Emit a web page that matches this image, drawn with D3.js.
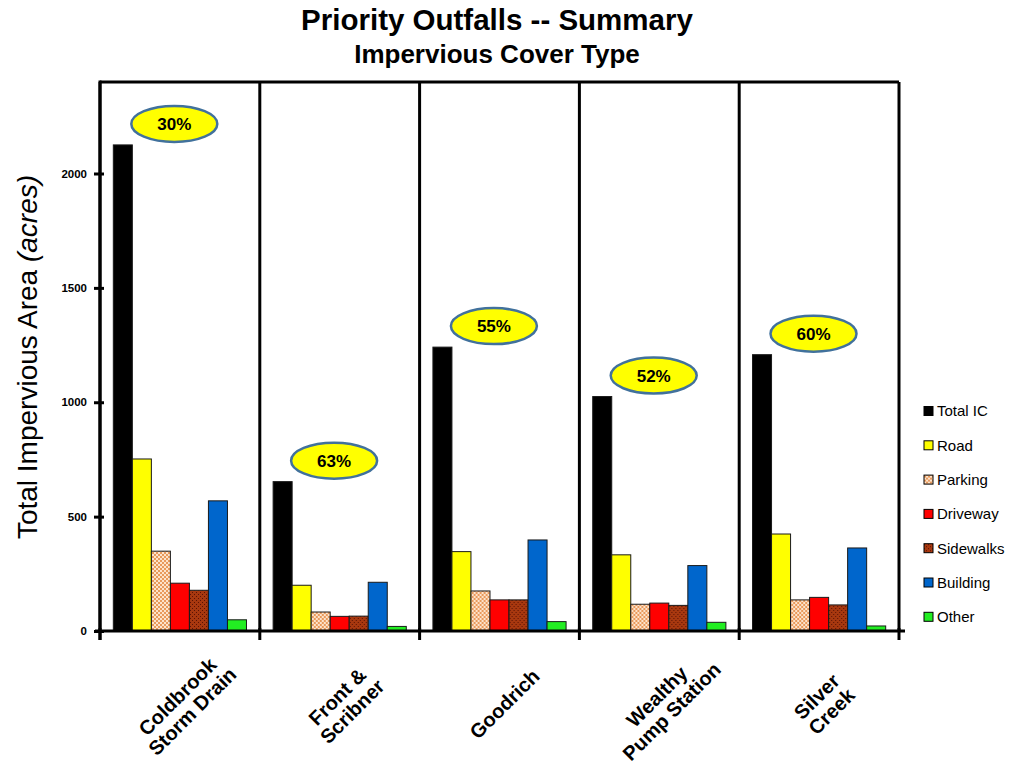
<!DOCTYPE html>
<html>
<head>
<meta charset="utf-8">
<script src="https://cdn.jsdelivr.net/npm/d3@7"></script>
<style>
  html, body { margin: 0; padding: 0; background: #fff; }
  svg { display: block; font-family: "Liberation Sans", Arial, sans-serif; }
</style>
</head>
<body>
<script>
// Outfall catchments (one line per array entry of each label)
const categories = [
  ["Coldbrook", "Storm Drain"],
  ["Front &", "Scribner"],
  ["Goodrich"],
  ["Wealthy", "Pump Station"],
  ["Silver", "Creek"]
];

// Impervious cover by type, acres
const totalIC   = [2125, 653, 1241, 1025, 1208];
const road      = [752, 200, 347, 333, 424];
const parking   = [349, 83, 175, 117, 136];
const driveway  = [209, 64, 136, 122, 147];
const sidewalks = [178, 65, 136, 112, 114];
const building  = [569, 213, 398, 286, 363];
const other     = [49, 20, 41, 38, 22];

// Percent labels shown in the callouts above each group
const pctLabels = ["30%", "63%", "55%", "52%", "60%"];

const seriesNames = ["Total IC", "Road", "Parking", "Driveway", "Sidewalks", "Building", "Other"];
const seriesValues = [totalIC, road, parking, driveway, sidewalks, building, other];

const yTicks = [0, 500, 1000, 1500, 2000];
const yMax = 2400;

const W = 1009, H = 767;
const plot = { left: 100, right: 899, top: 82, bottom: 631 };

const svg = d3.select("body").append("svg").attr("width", W).attr("height", H);

// Fill patterns for the textured series
const defs = svg.append("defs");
const pk = defs.append("pattern").attr("id", "pat-parking")
  .attr("patternUnits", "userSpaceOnUse").attr("width", 4).attr("height", 4);
pk.append("rect").attr("width", 4).attr("height", 4).attr("fill", "#fde3cb");
pk.append("rect").attr("width", 2).attr("height", 2).attr("fill", "#e99a5c");
pk.append("rect").attr("x", 2).attr("y", 2).attr("width", 2).attr("height", 2).attr("fill", "#e99a5c");

const sw = defs.append("pattern").attr("id", "pat-sidewalks")
  .attr("patternUnits", "userSpaceOnUse").attr("width", 4).attr("height", 4);
sw.append("rect").attr("width", 4).attr("height", 4).attr("fill", "#a8380f");
sw.append("rect").attr("x", 0).attr("y", 0).attr("width", 1).attr("height", 1).attr("fill", "#5a1204");
sw.append("rect").attr("x", 2).attr("y", 2).attr("width", 1).attr("height", 1).attr("fill", "#5a1204");

const fills = {
  "Total IC": "#000000",
  "Road": "#ffff00",
  "Parking": "url(#pat-parking)",
  "Driveway": "#ff0000",
  "Sidewalks": "url(#pat-sidewalks)",
  "Building": "#0066cc",
  "Other": "#22ee22"
};

// Scales
const x0 = d3.scaleBand()
  .domain(d3.range(categories.length))
  .range([plot.left, plot.right])
  .padding(0);

const x1 = d3.scaleBand()
  .domain(seriesNames)
  .range([0, x0.bandwidth()])
  .paddingInner(0)
  .paddingOuter(0.7);

const y = d3.scaleLinear().domain([0, yMax]).range([plot.bottom, plot.top]);

// Bars
const groups = svg.append("g").selectAll("g")
  .data(categories.map((c, i) => i))
  .join("g")
  .attr("transform", i => `translate(${x0(i)},0)`);

groups.selectAll("rect")
  .data(i => seriesNames.map((s, k) => ({ s, v: seriesValues[k][i] })))
  .join("rect")
  .attr("x", d => x1(d.s))
  .attr("y", d => y(d.v))
  .attr("width", x1.bandwidth())
  .attr("height", d => y(0) - y(d.v))
  .attr("fill", d => fills[d.s])
  .attr("stroke", "#1a1a1a")
  .attr("stroke-width", 1);

// Frame: top rule and group dividers
const frame = svg.append("g").attr("stroke", "#000").attr("stroke-width", 3).attr("fill", "none");
frame.append("line")
  .attr("x1", plot.left).attr("x2", plot.right)
  .attr("y1", plot.top).attr("y2", plot.top);
const boundaries = d3.range(categories.length + 1).map(i => i < categories.length ? x0(i) : plot.right);
frame.selectAll("line.div")
  .data(boundaries)
  .join("line")
  .attr("class", "div")
  .attr("x1", d => d).attr("x2", d => d)
  .attr("y1", plot.top).attr("y2", plot.bottom);

// X axis line with tick marks at group boundaries
frame.append("line")
  .attr("x1", plot.left - 5).attr("x2", plot.right + 6)
  .attr("y1", plot.bottom).attr("y2", plot.bottom);
frame.selectAll("line.xt")
  .data(boundaries)
  .join("line")
  .attr("class", "xt")
  .attr("x1", d => d).attr("x2", d => d)
  .attr("y1", plot.bottom - 3).attr("y2", plot.bottom + 9);

// Y axis
const yAxis = svg.append("g")
  .attr("transform", `translate(${plot.left},0)`)
  .call(d3.axisLeft(y).tickValues(yTicks).tickSize(0).tickPadding(13).tickFormat(d3.format("d")));
yAxis.select(".domain").remove();
yAxis.selectAll(".tick text")
  .attr("font-family", "'Liberation Sans', Arial, sans-serif")
  .attr("font-size", 11.5).attr("font-weight", "bold").attr("fill", "#000");
yAxis.selectAll(".tick").append("line")
  .attr("x1", -6).attr("x2", 4)
  .attr("stroke", "#000").attr("stroke-width", 3);
svg.append("line")
  .attr("x1", plot.left).attr("x2", plot.left)
  .attr("y1", plot.top - 1.5).attr("y2", plot.bottom + 9)
  .attr("stroke", "#000").attr("stroke-width", 3);

// Y axis title
const yTitle = svg.append("text")
  .attr("transform", "translate(37, 357) rotate(-90)")
  .attr("text-anchor", "middle")
  .attr("font-size", 28)
  .attr("fill", "#000");
yTitle.append("tspan").text("Total Impervious Area ");
yTitle.append("tspan").attr("font-style", "italic").text("(acres)");

// Percent callouts
const callouts = svg.append("g").selectAll("g")
  .data(pctLabels.map((p, i) => ({ p, i })))
  .join("g")
  .attr("transform", d => `translate(${x0(d.i) + x0.bandwidth() * 0.465},${y(totalIC[d.i]) - 21})`);
callouts.append("ellipse")
  .attr("rx", 43).attr("ry", 18)
  .attr("fill", "#ffff00")
  .attr("stroke", "#41719c").attr("stroke-width", 2.5);
callouts.append("text")
  .attr("text-anchor", "middle").attr("dy", "0.36em")
  .attr("font-size", 17).attr("font-weight", "bold")
  .text(d => d.p);

// Category labels, rotated 45 degrees, lines centred within each block
const lh = 21;
const xl = svg.append("g").selectAll("g")
  .data(categories.map((c, i) => ({ c, i })))
  .join("g")
  .attr("transform", d => `translate(${x0(d.i) + x0.bandwidth() / 2 + 5},704) rotate(-45)`);
xl.selectAll("text")
  .data(d => d.c.map((s, k) => ({ s, k, n: d.c.length })))
  .join("text")
  .attr("text-anchor", "middle")
  .attr("font-size", 20).attr("font-weight", "bold")
  .attr("y", d => (d.k - (d.n - 1) / 2) * lh + 7)
  .text(d => d.s);

// Titles
svg.append("text")
  .attr("x", 497).attr("y", 30)
  .attr("text-anchor", "middle")
  .attr("font-size", 29.5).attr("font-weight", "bold")
  .text("Priority Outfalls -- Summary");
svg.append("text")
  .attr("x", 497).attr("y", 63)
  .attr("text-anchor", "middle")
  .attr("font-size", 26).attr("font-weight", "bold")
  .text("Impervious Cover Type");

// Legend
const legend = svg.append("g").attr("transform", "translate(924, 411)");
const li = legend.selectAll("g")
  .data(seriesNames)
  .join("g")
  .attr("transform", (s, k) => `translate(0, ${k * 34.3})`);
li.append("rect")
  .attr("x", 0).attr("y", -4.5).attr("width", 9).attr("height", 9)
  .attr("fill", s => fills[s])
  .attr("stroke", "#000").attr("stroke-width", 1);
li.append("text")
  .attr("x", 13).attr("dy", "0.36em")
  .attr("font-size", 15)
  .text(s => s);
</script>
</body>
</html>
